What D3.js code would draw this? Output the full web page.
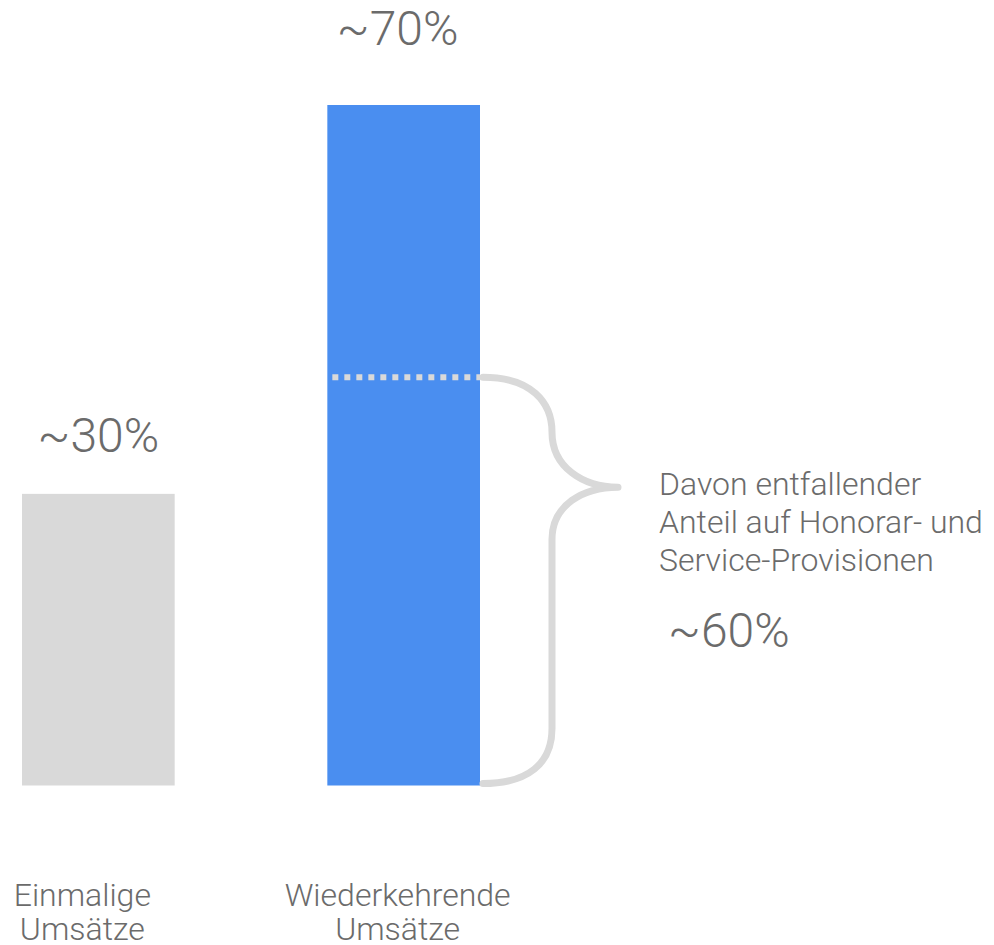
<!DOCTYPE html>
<html>
<head>
<meta charset="utf-8">
<script src="https://cdn.jsdelivr.net/npm/d3@7"></script>
<style>
  body { margin: 0; background: #fff; }
  text { font-family: Roboto, "Noto Sans", sans-serif; font-weight: 300; fill: #6b6b6b; }
</style>
</head>
<body>
<svg id="chart" width="994" height="945"></svg>
<script>
// data
const categories = ["Einmalige Umsätze", "Wiederkehrende Umsätze"];
const values = [30, 70];
const valueLabels = ["~30%", "~70%"];
const barColors = ["#d9d9d9", "#4a8ef0"];
const shareOfRecurring = 0.6;
const shareLabel = "~60%";
const noteLines = ["Davon entfallender", "Anteil auf Honorar- und", "Service-Provisionen"];

const svg = d3.select("#chart");

let x = d3.scaleBand()
    .domain(categories)
    .range([22, 480])
    .paddingInner(0.5)
    .paddingOuter(0);

let y = d3.scaleLinear()
    .domain([0, 70])
    .range([785.5, 105]);

// bars
svg.selectAll("rect.bar")
    .data(values)
    .enter()
    .append("rect")
    .attr("class", "bar")
    .attr("x", (d, i) => x(categories[i]))
    .attr("y", d => y(d))
    .attr("width", x.bandwidth())
    .attr("height", d => y(0) - y(d))
    .attr("fill", (d, i) => barColors[i]);

// value labels above bars
let labelGap = [42, 60];
svg.selectAll("text.value")
    .data(values)
    .enter()
    .append("text")
    .attr("class", "value")
    .attr("x", (d, i) => x(categories[i]) + x.bandwidth() / 2 - (i === 1 ? 6 : 0))
    .attr("y", (d, i) => y(d) - labelGap[i])
    .attr("text-anchor", "middle")
    .style("font-size", "48px")
    .text((d, i) => valueLabels[i]);

// category labels (two lines)
let catShift = [-16, -6];
categories.forEach(function (c, i) {
    let words = c.split(" ");
    let t = svg.append("text")
        .attr("text-anchor", "middle")
        .style("font-size", "32px");
    words.forEach(function (w, j) {
        t.append("tspan")
            .attr("x", x(c) + x.bandwidth() / 2 + catShift[i])
            .attr("y", 906 + j * 34)
            .text(w);
    });
});

// dotted split line inside recurring bar
let recurring = categories[1];
let splitY = y(values[1] * shareOfRecurring);
svg.append("line")
    .attr("x1", x(recurring) + 5)
    .attr("x2", x(recurring) + x.bandwidth())
    .attr("y1", splitY)
    .attr("y2", splitY)
    .attr("stroke", "#d9d9d9")
    .attr("stroke-width", 6)
    .attr("stroke-dasharray", "6,6");

// curly brace
let bx = x(recurring) + x.bandwidth() + 3;
let vx = bx + 69;
let tipX = vx + 66;
let braceTop = splitY;
let braceBot = y(0) - 2;
let tipY = braceTop + 110;

let p = d3.path();
p.moveTo(bx, braceTop);
p.bezierCurveTo(bx + 48, braceTop, vx, braceTop + 25, vx, braceTop + 55);
p.bezierCurveTo(vx, tipY - 20, tipX - 35, tipY, tipX, tipY);
p.bezierCurveTo(tipX - 35, tipY, vx, tipY + 18, vx, tipY + 52);
p.lineTo(vx, braceBot - 55);
p.bezierCurveTo(vx, braceBot - 20, bx + 45, braceBot, bx, braceBot);

svg.append("path")
    .attr("d", p.toString())
    .attr("fill", "none")
    .attr("stroke", "#d9d9d9")
    .attr("stroke-width", 7)
    .attr("stroke-linecap", "round")
    .attr("stroke-linejoin", "round");

// note text
let note = svg.append("text")
    .style("font-size", "32px");
noteLines.forEach(function (line, i) {
    note.append("tspan")
        .attr("x", 659)
        .attr("y", 495 + i * 38)
        .text(line);
});

svg.append("text")
    .attr("x", 668)
    .attr("y", 647)
    .style("font-size", "48px")
    .text(shareLabel);
</script>
</body>
</html>
